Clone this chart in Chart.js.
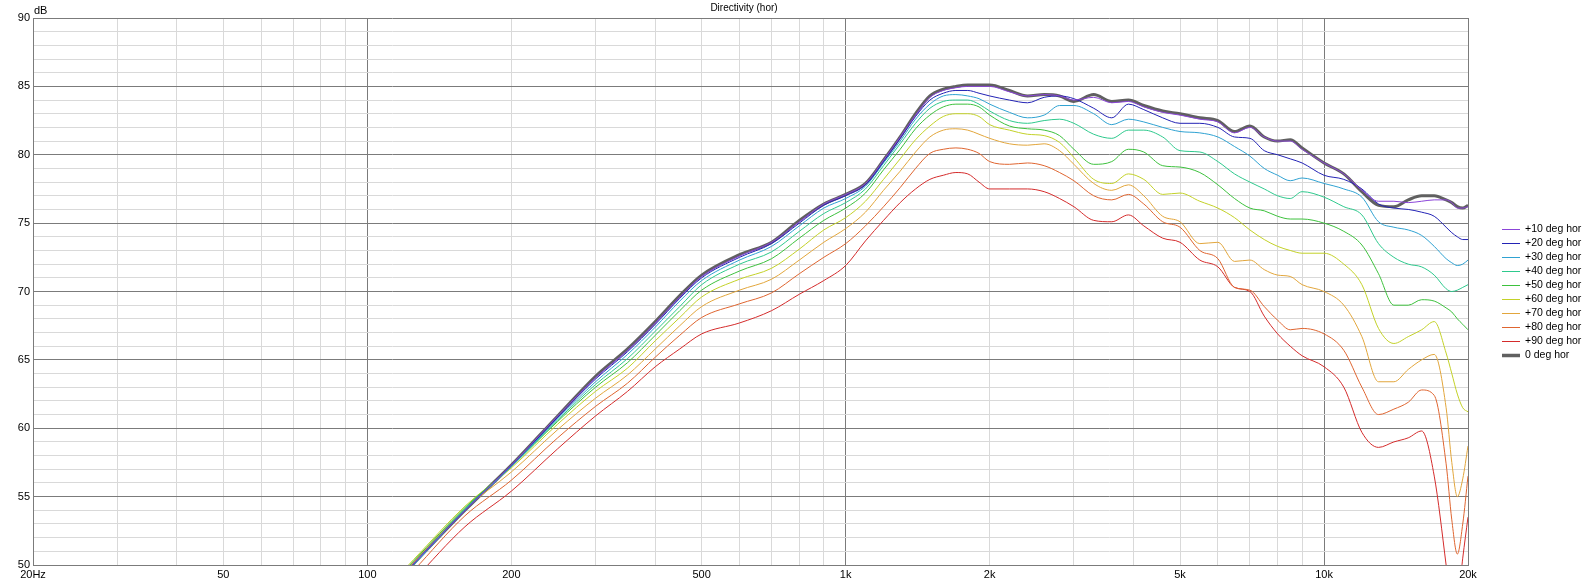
<!DOCTYPE html>
<html>
<head>
<meta charset="utf-8">
<title>Directivity (hor)</title>
<script src="https://cdn.jsdelivr.net/npm/chart.js@4.4.0/dist/chart.umd.min.js"></script>
<style>
    html, body { margin: 0; padding: 0; background: #fff; }
    #wrap { width: 1592px; height: 583px; position: relative; }
</style>
</head>
<body>
<div id="wrap"><canvas id="directivity" width="1592" height="583"></canvas></div>
<script>
// frequency points (Hz) shared by all curves
const freqs = [100, 125, 160, 200, 250, 300, 350, 400, 450, 500,
    600, 700, 800, 900, 1000, 1100, 1200, 1300, 1400, 1500,
    1600, 1700, 1800, 1900, 2000, 2200, 2400, 2600, 2800, 3000,
    3300, 3600, 3900, 4200, 4600, 5000, 5500, 6000, 6500, 7000,
    7500, 8000, 8500, 9000, 10000, 11000, 12000, 13000, 14000, 15000,
    16000, 17000, 18000, 18500, 19000, 19500, 20000];

const deg10 = [46.5, 50.1, 54.0, 57.3, 60.9, 63.7, 65.7, 67.7, 69.6, 71.1,
    72.6, 73.6, 75.1, 76.4, 77.1, 77.9, 79.6, 81.3, 82.9, 84.2,
    84.7, 84.9, 85.0, 85.0, 85.0, 84.6, 84.3, 84.4, 84.3, 84.0,
    84.2, 83.8, 83.9, 83.5, 83.1, 82.9, 82.6, 82.4, 81.6, 82.0,
    81.3, 81.0, 81.0, 80.4, 79.4, 78.6, 77.4, 76.6, 76.6, 76.5,
    76.6, 76.7, 76.7, 76.5, 76.1, 76.1, 76.2];
const deg20 = [46.5, 50.1, 54.0, 57.3, 60.8, 63.6, 65.6, 67.6, 69.5, 71.0,
    72.5, 73.5, 75.0, 76.3, 77.0, 77.8, 79.5, 81.2, 82.8, 84.0,
    84.5, 84.7, 84.7, 84.5, 84.3, 84.0, 83.8, 84.2, 84.3, 84.1,
    83.4, 82.7, 83.7, 83.3, 82.7, 82.3, 82.3, 82.0, 81.3, 81.2,
    80.3, 80.0, 79.7, 79.4, 78.5, 78.2, 77.5, 76.4, 76.1, 76.0,
    75.8, 75.5, 74.7, 74.3, 74.0, 73.8, 73.8];
const deg30 = [46.4, 50.0, 54.0, 57.2, 60.7, 63.4, 65.4, 67.4, 69.3, 70.8,
    72.3, 73.3, 74.8, 76.1, 76.8, 77.7, 79.4, 81.0, 82.6, 83.7,
    84.3, 84.4, 84.3, 84.1, 83.7, 83.1, 82.7, 82.9, 83.6, 83.6,
    83.0, 82.2, 82.6, 82.4, 82.0, 81.7, 81.6, 81.3, 80.6, 79.9,
    79.0, 78.5, 78.1, 78.3, 77.9, 77.5, 76.9, 75.1, 74.7, 74.5,
    74.1, 73.3, 72.4, 72.1, 71.9, 72.0, 72.3];
const deg40 = [46.5, 50.1, 54.1, 57.2, 60.6, 63.2, 65.1, 67.1, 68.9, 70.5,
    72.0, 72.9, 74.4, 75.7, 76.5, 77.5, 79.2, 80.8, 82.3, 83.4,
    83.9, 84.0, 84.0, 83.7, 83.2, 82.5, 82.3, 82.5, 82.6, 82.3,
    81.5, 81.2, 81.8, 81.8, 81.3, 80.3, 80.2, 79.5, 78.6, 78.0,
    77.5, 77.0, 76.8, 77.3, 76.9, 76.2, 75.6, 73.5, 72.5, 72.0,
    71.8, 71.2, 70.2, 70.0, 70.1, 70.3, 70.5];
const deg50 = [46.7, 50.3, 54.2, 57.2, 60.5, 63.0, 64.8, 66.8, 68.6, 70.1,
    71.5, 72.4, 73.9, 75.2, 76.1, 77.2, 78.9, 80.4, 81.9, 82.9,
    83.5, 83.7, 83.7, 83.5, 82.9, 82.1, 81.9, 81.8, 81.4, 80.4,
    79.3, 79.5, 80.4, 80.2, 79.2, 79.1, 78.7, 77.8, 76.8, 76.1,
    75.9, 75.5, 75.3, 75.3, 75.0, 74.4, 73.4, 71.3, 69.0, 69.0,
    69.4, 69.3, 68.8, 68.5, 68.0, 67.6, 67.2];
const deg60 = [46.8, 50.4, 54.3, 57.1, 60.3, 62.7, 64.4, 66.4, 68.1, 69.6,
    70.9, 71.7, 73.1, 74.5, 75.4, 76.6, 78.2, 79.7, 81.1, 82.1,
    82.8, 83.0, 83.0, 82.8, 82.2, 81.8, 81.5, 81.4, 80.9, 79.8,
    78.2, 77.9, 78.6, 78.2, 77.1, 77.2, 76.6, 76.1, 75.4, 74.5,
    73.8, 73.3, 73.0, 72.8, 72.8, 72.0, 70.5, 67.3, 66.2, 66.7,
    67.2, 67.8, 65.5, 64.0, 62.5, 61.5, 61.2];
const deg70 = [46.5, 50.2, 54.1, 56.8, 59.9, 62.2, 63.9, 65.8, 67.5, 68.9,
    70.1, 70.9, 72.3, 73.6, 74.6, 75.8, 77.4, 78.8, 80.2, 81.3,
    81.8, 81.9, 81.8, 81.5, 81.2, 80.8, 80.7, 80.8, 80.3, 79.3,
    77.9, 77.4, 77.8, 77.0, 75.5, 75.1, 73.5, 73.6, 72.2, 72.3,
    71.6, 71.2, 71.1, 70.5, 70.0, 69.0, 66.7, 63.4, 63.4, 64.3,
    65.0, 65.4, 61.5, 57.5, 55.0, 56.3, 58.7];
const deg80 = [46.0, 49.6, 53.6, 56.2, 59.3, 61.6, 63.3, 65.2, 66.8, 68.1,
    69.1, 69.9, 71.3, 72.5, 73.5, 74.8, 76.2, 77.6, 79.0, 80.1,
    80.4, 80.5, 80.4, 80.1, 79.5, 79.3, 79.4, 79.2, 78.7, 78.1,
    77.0, 76.7, 77.1, 76.4, 75.1, 74.7, 73.0, 72.4, 70.3, 70.1,
    68.9, 67.9, 67.2, 67.3, 66.9, 65.7, 63.0, 61.0, 61.4, 61.9,
    62.8, 62.4, 57.4, 53.3, 50.8, 53.0, 56.5];
const deg90 = [45.4, 48.9, 52.8, 55.4, 58.5, 60.9, 62.7, 64.5, 65.8, 66.9,
    67.7, 68.6, 69.8, 70.8, 71.9, 73.7, 75.2, 76.5, 77.5, 78.2,
    78.5, 78.7, 78.6, 78.0, 77.5, 77.5, 77.5, 77.3, 76.8, 76.2,
    75.2, 75.1, 75.6, 74.8, 73.9, 73.6, 72.3, 71.8, 70.3, 70.0,
    68.2, 66.9, 66.0, 65.3, 64.5, 63.0, 59.7, 58.6, 59.0, 59.3,
    59.8, 56.5, 50.0, 46.5, 47.0, 50.5, 53.5];
const deg0 = [46.5, 50.1, 54.0, 57.3, 60.9, 63.8, 65.8, 67.8, 69.7, 71.2,
    72.7, 73.6, 75.2, 76.4, 77.1, 77.9, 79.6, 81.3, 83.0, 84.3,
    84.8, 85.0, 85.1, 85.1, 85.1, 84.7, 84.3, 84.4, 84.3, 83.9,
    84.4, 83.9, 84.0, 83.6, 83.2, 83.0, 82.7, 82.5, 81.7, 82.1,
    81.3, 81.0, 81.1, 80.5, 79.4, 78.6, 77.3, 76.3, 76.2, 76.7,
    77.0, 77.0, 76.7, 76.5, 76.2, 76.1, 76.3];

const seriesNames = ['+10 deg hor', '+20 deg hor', '+30 deg hor', '+40 deg hor', '+50 deg hor',
    '+60 deg hor', '+70 deg hor', '+80 deg hor', '+90 deg hor', '0 deg hor'];
const seriesValues = [deg10, deg20, deg30, deg40, deg50, deg60, deg70, deg80, deg90, deg0];
const seriesColors = ['#8b45d8', '#2323b5', '#2fa2d2', '#2ec98d', '#3dc13d',
    '#c3d128', '#e2a63c', '#df6530', '#d42b2b', '#606060'];

// x grid lines and the labelled ones
const xGrid = [20, 30, 40, 50, 60, 70, 80, 90, 100, 200, 300, 400, 500, 600, 700, 800, 900,
    1000, 2000, 3000, 4000, 5000, 6000, 7000, 8000, 9000, 10000, 20000];
const xLabelFreqs = [20, 50, 100, 200, 500, 1000, 2000, 5000, 10000, 20000];
const xLabelTexts = ['20Hz', '50', '100', '200', '500', '1k', '2k', '5k', '10k', '20k'];
const xMajor = [20, 100, 1000, 10000, 20000];

const darkGrid = '#7b7b7b';
const lightGrid = '#d9d9d9';
const font = '"Liberation Sans", Arial, sans-serif';

let datasets = seriesValues.map(function (vals, i) {
    let isRef = i === seriesValues.length - 1;
    return {
        label: seriesNames[i],
        data: freqs.map((f, k) => ({x: f, y: vals[k]})),
        borderColor: seriesColors[i],
        backgroundColor: seriesColors[i],
        borderWidth: isRef ? 3 : 1,
        pointRadius: 0,
        fill: false,
        cubicInterpolationMode: 'monotone',
        order: isRef ? 10 : 0
    }
});

const extras = {
    id: 'extras',
    afterDraw(chart) {
        const ctx = chart.ctx;
        ctx.save();
        ctx.fillStyle = '#000';
        ctx.textBaseline = 'middle';
        ctx.font = '10px ' + font;
        ctx.textAlign = 'center';
        ctx.fillText('Directivity (hor)', 744, 8);
        ctx.textAlign = 'left';
        ctx.font = '11px ' + font;
        ctx.fillText('dB', 34, 11);

        // legend
        ctx.font = '10.5px ' + font;
        seriesNames.forEach(function (name, i) {
            let y = 229.5 + i * 14;
            ctx.strokeStyle = seriesColors[i];
            ctx.lineWidth = i === seriesNames.length - 1 ? 3.5 : 1;
            ctx.beginPath();
            ctx.moveTo(1502, y);
            ctx.lineTo(1520, y);
            ctx.stroke();
            ctx.fillText(name, 1525, y);
        });
        ctx.restore();
    }
};

let chart = new Chart(document.getElementById('directivity'), {
    type: 'line',
    data: {datasets: datasets},
    options: {
        responsive: false,
        animation: false,
        layout: {
            padding: {top: 18, left: 0, right: 124, bottom: 0}
        },
        plugins: {
            legend: {display: false},
            title: {display: false},
            tooltip: {enabled: false}
        },
        scales: {
            x: {
                type: 'logarithmic',
                min: 20,
                max: 20000,
                afterBuildTicks: function (scale) {
                    scale.ticks = xGrid.map(v => ({value: v}));
                },
                afterFit: function (scale) {
                    scale.height = 18;
                },
                ticks: {
                    autoSkip: false,
                    maxRotation: 0,
                    padding: 3,
                    color: '#000',
                    font: {family: font, size: 11},
                    callback: function (value) {
                        let i = xLabelFreqs.indexOf(value);
                        return i >= 0 ? xLabelTexts[i] : '';
                    }
                },
                grid: {
                    drawTicks: false,
                    color: ctx => xMajor.includes(ctx.tick && ctx.tick.value) ? darkGrid : lightGrid
                },
                border: {color: darkGrid}
            },
            y: {
                min: 50,
                max: 90,
                afterFit: function (scale) {
                    scale.width = 33;
                },
                ticks: {
                    stepSize: 1,
                    autoSkip: false,
                    padding: 3,
                    color: '#000',
                    font: {family: font, size: 11},
                    callback: v => (v % 5 === 0 ? String(v) : '')
                },
                grid: {
                    drawTicks: false,
                    color: ctx => (ctx.tick && ctx.tick.value % 5 === 0) ? darkGrid : lightGrid
                },
                border: {color: darkGrid}
            }
        }
    },
    plugins: [extras]
});
</script>
</body>
</html>
